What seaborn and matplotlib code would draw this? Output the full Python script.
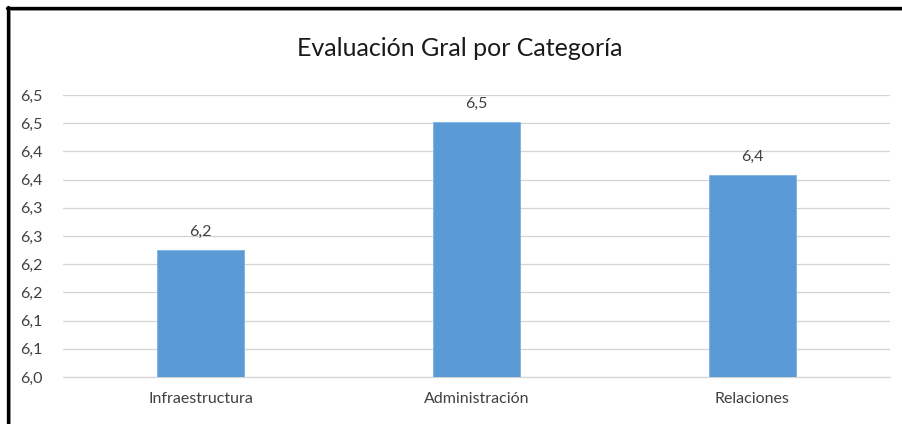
import matplotlib
matplotlib.use("Agg")
import matplotlib.pyplot as plt
from matplotlib.lines import Line2D
from matplotlib.ticker import FixedLocator, FixedFormatter
import seaborn as sns
import pandas as pd

categories = ["Infraestructura", "Administración", "Relaciones"]
values = [6.225, 6.452, 6.359]
value_labels = ["6,2", "6,5", "6,4"]
ytick_values = [6.0, 6.05, 6.1, 6.15, 6.2, 6.25, 6.3, 6.35, 6.4, 6.45, 6.5]
ytick_labels = ["6,0", "6,1", "6,1", "6,2", "6,2", "6,3", "6,3", "6,4", "6,4", "6,5", "6,5"]
title = "Evaluación Gral por Categoría"

sns.set_theme(style="white")
plt.rcParams["font.family"] = ["Lato", "DejaVu Sans"]

W, H = 903, 424
fig = plt.figure(figsize=(W / 100, H / 100), dpi=100)
fig.patch.set_facecolor("white")
ax = fig.add_axes([63 / W, (H - 377) / H, (890 - 63) / W, (377 - 95) / H])

df = pd.DataFrame({"cat": categories, "val": values})
sns.barplot(data=df, x="cat", y="val", color="#5B9BD5", saturation=1,
            width=0.316, ax=ax, zorder=3)
for p in ax.patches:
    p.set_edgecolor("#7FB0DF")
    p.set_linewidth(0.6)

ax.set_ylim(6.0, 6.5)
ax.set_xlim(-0.5, 2.5)
ax.yaxis.set_major_locator(FixedLocator(ytick_values))
ax.yaxis.set_major_formatter(FixedFormatter(ytick_labels))
ax.grid(axis="y", color="#D4D4D4", linewidth=0.9, zorder=0)
ax.grid(axis="x", visible=False)
for s in ["top", "right", "left"]:
    ax.spines[s].set_visible(False)
ax.spines["bottom"].set_color("#D4D4D4")
ax.spines["bottom"].set_linewidth(0.9)
ax.set_xlabel("")
ax.set_ylabel("")
ax.tick_params(axis="y", length=0, pad=15, labelsize=11.5, labelcolor="#404040")
ax.tick_params(axis="x", length=0, pad=11, labelsize=11.5, labelcolor="#404040")

for i, (v, lab) in enumerate(zip(values, value_labels)):
    ax.annotate(lab, (i, v), xytext=(0, 8), textcoords="offset points",
                ha="center", va="bottom", fontsize=11.5, color="#404040")

fig.text(460 / W, 1 - 48 / H, title, ha="center", va="center",
         fontsize=18, color="#1a1a1a")

# outer border (top and left)
fig.add_artist(Line2D([7 / W, 1], [1 - 8 / H, 1 - 8 / H], color="black",
                      linewidth=2.4, transform=fig.transFigure))
fig.add_artist(Line2D([8 / W, 8 / W], [0, 1 - 7 / H], color="black",
                      linewidth=2.4, transform=fig.transFigure))
fig.add_artist(Line2D([10 / W, 1], [1 - 10 / H, 1 - 10 / H], color="#888888",
                      linewidth=0.7, transform=fig.transFigure))
fig.add_artist(Line2D([10 / W, 10 / W], [0, 1 - 10 / H], color="#888888",
                      linewidth=0.7, transform=fig.transFigure))

fig.savefig("out.png", dpi=100)
